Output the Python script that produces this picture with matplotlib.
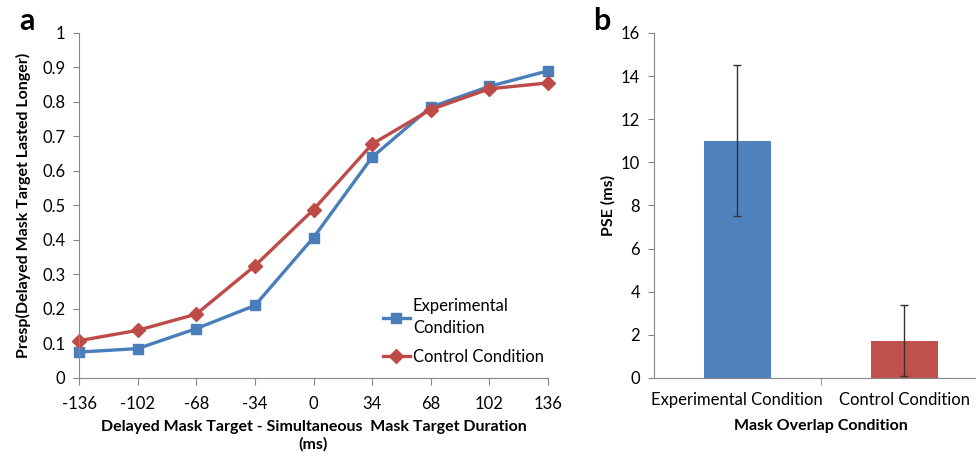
import matplotlib.pyplot as plt
import numpy as np

plt.rcParams['font.family'] = ['Lato', 'DejaVu Sans']
plt.rcParams['axes.unicode_minus'] = False

# data
durations = [-136, -102, -68, -34, 0, 34, 68, 102, 136]
experimental = [0.075, 0.085, 0.143, 0.21, 0.407, 0.64, 0.785, 0.845, 0.89]
control = [0.108, 0.138, 0.185, 0.325, 0.488, 0.678, 0.778, 0.838, 0.855]

conditions = ['Experimental Condition', 'Control Condition']
pse = [11.0, 1.72]
pse_err = [3.5, 1.65]

blue_line = '#4A7EBB'
red_line = '#BE4B48'
blue_bar = '#4F81BD'
red_bar = '#C0504D'
spine_col = '#868686'

fig = plt.figure(figsize=(9.76, 4.57), dpi=100)

# panel a
ax1 = fig.add_axes([0.081, 0.173, 0.4805, 0.755])
ax1.plot(durations, experimental, color=blue_line, lw=2.4, marker='s', ms=7,
         label='Experimental\nCondition', clip_on=False)
ax1.plot(durations, control, color=red_line, lw=2.4, marker='D', ms=7.5,
         label='Control Condition', clip_on=False)
ax1.set_xlim(-136, 136)
ax1.set_ylim(0, 1)
ax1.set_xticks(durations)
ax1.set_yticks(np.arange(0, 1.01, 0.1))
ax1.set_yticklabels(['0'] + ['%.1f' % v for v in np.arange(0.1, 0.95, 0.1)] + ['1'])
ax1.set_xlabel('Delayed Mask Target - Simultaneous  Mask Target Duration\n(ms)',
               fontsize=11.5, fontweight='bold', labelpad=6)
ax1.set_ylabel('Presp(Delayed Mask Target Lasted Longer)', fontsize=11.5,
               fontweight='bold', labelpad=8)
for s in ['top', 'right']:
    ax1.spines[s].set_visible(False)
for s in ['left', 'bottom']:
    ax1.spines[s].set_color(spine_col)
ax1.tick_params(axis='x', length=5, color=spine_col, labelsize=12, pad=8)
ax1.tick_params(axis='y', length=4, color=spine_col, labelsize=12, pad=6)
leg = ax1.legend(loc='upper left', bbox_to_anchor=(0.63, 0.255), frameon=False,
                 fontsize=12, handlelength=1.6, handletextpad=0.2,
                 labelspacing=0.75, borderpad=0)
for t in leg.get_texts():
    t.set_linespacing(1.45)
fig.text(0.02, 0.935, 'a', fontsize=22, fontweight='bold')

# panel b
ax2 = fig.add_axes([0.670, 0.173, 0.342, 0.755])
xpos = np.arange(len(conditions))
ax2.bar(xpos, pse, width=0.4, color=[blue_bar, red_bar], yerr=pse_err,
        error_kw=dict(ecolor='#333333', elinewidth=1, capsize=3, capthick=1))
ax2.set_xlim(-0.5, 1.5)
ax2.set_ylim(0, 16)
ax2.set_yticks(np.arange(0, 17, 2))
ax2.set_xticks(xpos)
ax2.set_xticklabels(conditions)
ax2.set_xticks([0.5], minor=True)
ax2.tick_params(axis='x', which='major', length=0, labelsize=12, pad=10)
ax2.tick_params(axis='x', which='minor', length=5, color=spine_col)
ax2.tick_params(axis='y', length=4, color=spine_col, labelsize=12, pad=6)
ax2.set_xlabel('Mask Overlap Condition', fontsize=11.5, fontweight='bold', labelpad=8)
ax2.set_ylabel('PSE (ms)', fontsize=11.5, fontweight='bold', labelpad=4)
for s in ['top', 'right']:
    ax2.spines[s].set_visible(False)
for s in ['left', 'bottom']:
    ax2.spines[s].set_color(spine_col)
fig.text(0.608, 0.935, 'b', fontsize=22, fontweight='bold')

fig.savefig('out.png', dpi=100)
